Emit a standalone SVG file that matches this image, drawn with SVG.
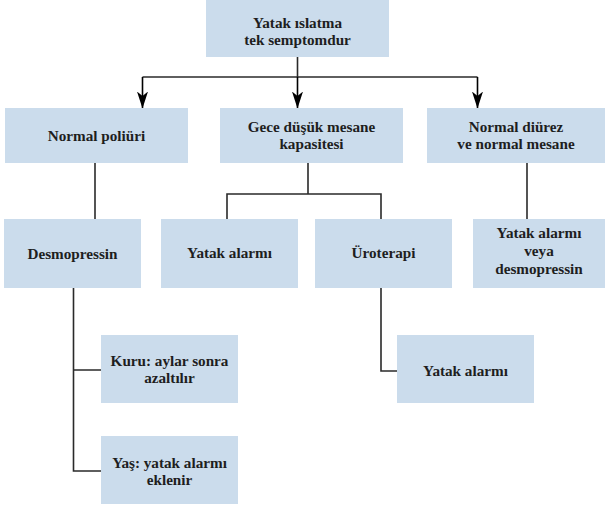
<svg xmlns="http://www.w3.org/2000/svg" width="605" height="507" viewBox="0 0 605 507">
  <style>
    .box { fill: #cbdcec; }
    .lbl { font-family: "Liberation Serif", "Times New Roman", serif; font-weight: bold; font-size: 15.2px; fill: #1e1e1e; text-anchor: middle; }
    .wire { fill: none; stroke: #2a2a2a; stroke-width: 1.6; }
    .arrow { fill: none; stroke: #000; stroke-width: 1.6; marker-end: url(#head); }
  </style>
  <defs>
    <marker id="head" markerWidth="17" markerHeight="11" refX="16.5" refY="5.5" orient="auto" markerUnits="userSpaceOnUse" viewBox="0 0 17 11">
      <path d="M0,0 L4.5,5.5 L0,11 L17,5.5 Z" fill="#000"/>
    </marker>
  </defs>
  <rect width="605" height="507" fill="#fff"/>

  <!-- connectors -->
  <g id="connectors">
    <line class="wire" x1="297.5" y1="57" x2="297.5" y2="77"/>
    <line class="wire" x1="142.5" y1="77" x2="477.5" y2="77"/>
    <path class="arrow" d="M142.5,77 V108"/>
    <path class="arrow" d="M297.5,77 V108"/>
    <path class="arrow" d="M477.5,77 V108"/>
    <line class="wire" x1="95" y1="163" x2="95" y2="219"/>
    <path class="wire" d="M308,163 V194 M227,219 V194 H381 V219"/>
    <line class="wire" x1="527" y1="163" x2="527" y2="219"/>
    <path class="wire" d="M73.5,288 V471 H101 M73.5,370 H101"/>
    <path class="wire" d="M381,288 V371 H397"/>
  </g>

  <g id="n-root">
    <rect class="box" x="206" y="0" width="183" height="57"/>
    <text class="lbl" x="297.5" y="27.5">Yatak ıslatma</text>
    <text class="lbl" x="297.5" y="44.5">tek semptomdur</text>
  </g>
  <g id="n-poliuri">
    <rect class="box" x="5" y="108" width="183" height="55"/>
    <text class="lbl" x="96.5" y="140.5">Normal poliüri</text>
  </g>
  <g id="n-kapasite">
    <rect class="box" x="220" y="108" width="183" height="55"/>
    <text class="lbl" x="311.5" y="132">Gece düşük mesane</text>
    <text class="lbl" x="311.5" y="149">kapasitesi</text>
  </g>
  <g id="n-diurez">
    <rect class="box" x="427" y="108" width="178" height="55"/>
    <text class="lbl" x="516" y="132">Normal diürez</text>
    <text class="lbl" x="516" y="149">ve normal mesane</text>
  </g>
  <g id="n-desmo">
    <rect class="box" x="4" y="219" width="137" height="69"/>
    <text class="lbl" x="72.5" y="258.5">Desmopressin</text>
  </g>
  <g id="n-alarm1">
    <rect class="box" x="161" y="219" width="137" height="69"/>
    <text class="lbl" x="229.5" y="257.5">Yatak alarmı</text>
  </g>
  <g id="n-uroterapi">
    <rect class="box" x="315" y="219" width="137" height="69"/>
    <text class="lbl" x="383.5" y="257.5">Üroterapi</text>
  </g>
  <g id="n-alarm-veya">
    <rect class="box" x="473" y="219" width="132" height="69"/>
    <text class="lbl" x="539" y="237.5">Yatak alarmı</text>
    <text class="lbl" x="539" y="255.5">veya</text>
    <text class="lbl" x="539" y="273.5">desmopressin</text>
  </g>
  <g id="n-kuru">
    <rect class="box" x="101" y="335" width="137" height="68"/>
    <text class="lbl" x="169.5" y="365.5">Kuru: aylar sonra</text>
    <text class="lbl" x="169.5" y="382.5">azaltılır</text>
  </g>
  <g id="n-alarm2">
    <rect class="box" x="397" y="335" width="137" height="68"/>
    <text class="lbl" x="465.5" y="375.5">Yatak alarmı</text>
  </g>
  <g id="n-yas">
    <rect class="box" x="101" y="436" width="137" height="68"/>
    <text class="lbl" x="169.5" y="467.5">Yaş: yatak alarmı</text>
    <text class="lbl" x="169.5" y="484.5">eklenir</text>
  </g>
</svg>
